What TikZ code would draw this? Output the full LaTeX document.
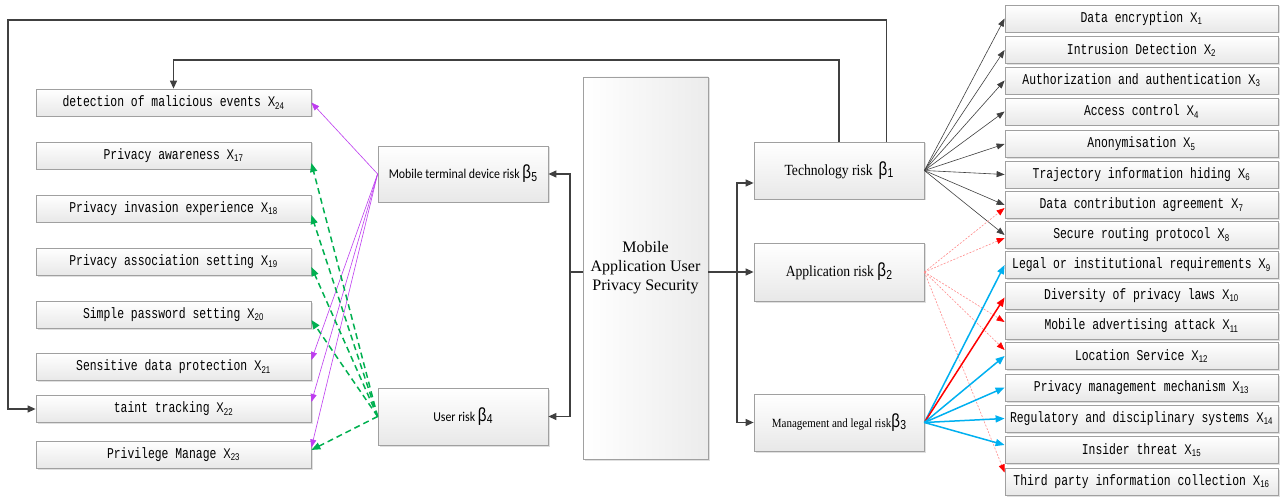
\documentclass[tikz,border=0pt]{standalone}
\usepackage{fontspec}
\setmainfont{Liberation Serif}
\newfontfamily\monof[FakeStretch=0.76]{Liberation Mono}
\newfontfamily\sansn[FakeStretch=0.8]{Liberation Sans}
\newfontfamily\carl[FakeStretch=0.88]{Carlito}
\newfontfamily\serifn[FakeStretch=0.88]{Liberation Serif}
\usetikzlibrary{arrows.meta,shadows}
\definecolor{bordergray}{RGB}{160,160,160}
\definecolor{linegray}{RGB}{64,64,64}
\definecolor{skyblue}{RGB}{0,176,240}
\definecolor{greenx}{RGB}{0,176,80}
\definecolor{purplex}{RGB}{190,60,240}
\definecolor{lightred}{RGB}{255,140,140}
\newcommand{\xl}[1]{{\sansn\fontsize{14}{16}\selectfont X\textsubscript{#1}}}
\newcommand{\bl}[1]{{\sansn\fontsize{19}{19}\selectfont β\kern0.3pt\raisebox{-2.5pt}{\fontsize{13}{13}\selectfont #1}}}
\begin{document}
\begin{tikzpicture}[x=1pt,y=-1pt,
  box/.style={draw=bordergray, line width=0.8pt, top color=white, bottom color=gray!18,
    drop shadow={shadow xshift=1.5pt, shadow yshift=-1.5pt, fill=gray!40, opacity=0.6},
    inner sep=0pt, align=center},
  xbox/.style={box, minimum width=275pt, minimum height=27pt, font=\monof\fontsize{15}{17}\selectfont},
  rbox/.style={box, minimum width=273pt, minimum height=27pt, font=\monof\fontsize{15}{17}\selectfont},
  mbox/.style={box, minimum width=170pt, minimum height=57pt},
  conn/.style={draw=linegray, line width=1.2pt},
  conna/.style={conn, -{Triangle[length=8pt,width=7pt]}},
  tarr/.style={draw=linegray, line width=0.6pt, -{Triangle[length=8pt,width=6pt]}},
  redd/.style={draw=lightred, line width=0.6pt, dash pattern=on 2pt off 1.5pt, -{Triangle[length=8pt,width=6pt,fill=red,color=red]}},
  bluea/.style={draw=skyblue, line width=1.5pt, -{Triangle[length=9pt,width=7pt]}},
  reda/.style={draw=red, line width=1.5pt, -{Triangle[length=9pt,width=7pt]}},
  purpa/.style={draw=purplex, line width=0.6pt, -{Triangle[length=8pt,width=6pt]}},
  greena/.style={draw=greenx, line width=1.5pt, dash pattern=on 6pt off 4pt, -{Triangle[length=9pt,width=7pt]}}
]
\useasboundingbox (0,0) rectangle (1280,497);
\fill[white] (0,0) rectangle (1280,497);

% left column
\node[xbox] (X24) at (173.5,102.5) {detection of malicious events \xl{24}};
\node[xbox] (X17) at (173.5,155.5) {Privacy awareness \xl{17}};
\node[xbox] (X18) at (173.5,208.5) {Privacy invasion experience \xl{18}};
\node[xbox] (X19) at (173.5,261.5) {Privacy association setting \xl{19}};
\node[xbox] (X20) at (173.5,314.5) {Simple password setting \xl{20}};
\node[xbox] (X21) at (173.5,367) {Sensitive data protection \xl{21}};
\node[xbox] (X22) at (173.5,409) {taint tracking \xl{22}};
\node[xbox] (X23) at (173.5,454.5) {Privilege Manage \xl{23}};

% middle left
\node[mbox, minimum height=56pt, font=\carl\fontsize{13.5}{15}\selectfont] (M) at (463,174) {Mobile terminal device risk \bl{5}};
\node[mbox, font=\carl\fontsize{13.5}{15}\selectfont] (U) at (463,416.5) {User risk \bl{4}};

% central
\node[draw=bordergray, line width=0.8pt, left color=white, right color=gray!15,
  drop shadow={shadow xshift=1.5pt, shadow yshift=-1.5pt, fill=gray!40, opacity=0.6},
  minimum width=125pt, minimum height=382pt, inner sep=0pt, align=center,
  font=\fontsize{16}{19}\selectfont] (C) at (645.5,268) {Mobile\\Application User\\Privacy Security};

% middle right
\node[mbox, font=\serifn\fontsize{15.5}{17}\selectfont] (T) at (839,170.5) {Technology risk \,\bl{1}};
\node[mbox, minimum height=58pt, font=\serifn\fontsize{15.5}{17}\selectfont] (A) at (839,272) {Application risk \bl{2}};
\node[mbox, font=\serifn\fontsize{12.5}{15}\selectfont] (G) at (839,422.5) {Management and legal risk\bl{3}};

% right column
\node[rbox] (X1) at (1141.5,18.5) {Data encryption \xl{1}};
\node[rbox] (X2) at (1141.5,50) {Intrusion Detection \xl{2}};
\node[rbox] (X3) at (1141.5,80.5) {Authorization and authentication \xl{3}};
\node[rbox] (X4) at (1141.5,111.5) {Access control \xl{4}};
\node[rbox] (X5) at (1141.5,144) {Anonymisation \xl{5}};
\node[rbox] (X6) at (1141.5,174.5) {Trajectory information hiding \xl{6}};
\node[rbox] (X7) at (1141.5,205) {Data contribution agreement \xl{7}};
\node[rbox] (X8) at (1141.5,235) {Secure routing protocol \xl{8}};
\node[rbox] (X9) at (1141.5,265) {Legal or institutional requirements \xl{9}};
\node[rbox] (X10) at (1141.5,295.5) {Diversity of privacy laws \xl{10}};
\node[rbox] (X11) at (1141.5,326) {Mobile advertising attack \xl{11}};
\node[rbox] (X12) at (1141.5,356) {Location Service \xl{12}};
\node[rbox] (X13) at (1141.5,387.5) {Privacy management mechanism \xl{13}};
\node[rbox] (X14) at (1141.5,418.5) {Regulatory and disciplinary systems \xl{14}};
\node[rbox] (X15) at (1141.5,450) {Insider threat \xl{15}};
\node[rbox] (X16) at (1141.5,481.5) {Third party information collection \xl{16}};

% central brackets
\coordinate (lj) at (570,272);
\coordinate (rj) at (737,272);
\draw[conn] (C.west |- lj) -- (lj);
\draw[conna] (lj) |- (M.east);
\draw[conna] (lj) |- (U.east);
\draw[conna] (C.east |- rj) -- (A.west);
\draw[conna] (rj) |- ([yshift=-12.5pt]T.west);
\draw[conna] (rj) |- (G.west);

% feedback loops
\coordinate (o1) at (886.5,20);
\coordinate (o2) at (8,20);
\draw[conna] (T.north -| o1) -- (o1) -- (o2) |- (X22.west);
\coordinate (i1) at (839,60);
\coordinate (i2) at (173.5,60);
\draw[conna] (T.north) -- (i1) -- (i2) -- (X24.north);

% technology risk arrows
\foreach \t in {X1,X2,X3,X4,X5,X6,X7,X8}
  \draw[tarr] (T.east) -- (\t.west);

% application risk (dashed red)
\draw[redd] (A.east) -- ([yshift=-3pt]X7.west);
\draw[redd] (A.east) -- ([yshift=-3pt]X8.west);
\draw[redd] (A.east) -- ([yshift=4pt]X11.west);
\draw[redd] (A.east) -- ([yshift=6pt]X12.west);
\draw[redd] (A.east) -- ([yshift=9pt]X16.west);

% management and legal risk
\draw[bluea] (G.east) -- (X9.west);
\draw[reda] (G.east) -- ([yshift=-2pt]X10.west);
\draw[bluea] (G.east) -- (X12.west);
\draw[bluea] (G.east) -- (X13.west);
\draw[bluea] (G.east) -- (X14.west);
\draw[bluea] (G.east) -- ([yshift=5pt]X15.west);

% mobile terminal device risk (purple)
\draw[purpa] (M.west) -- (X24.east);
\draw[purpa] (M.west) -- ([yshift=7pt]X21.east);
\draw[purpa] (M.west) -- ([yshift=7pt]X22.east);
\draw[purpa] (M.west) -- ([yshift=7pt]X23.east);

% user risk (green dashed)
\draw[greena] (U.west) -- ([yshift=-7.5pt]X17.east);
\draw[greena] (U.west) -- ([yshift=-6.5pt]X18.east);
\draw[greena] (U.west) -- ([yshift=-5.5pt]X19.east);
\draw[greena] (U.west) -- ([yshift=-5.5pt]X20.east);
\draw[greena] (U.west) -- ([yshift=4.5pt]X23.east);
\end{tikzpicture}
\end{document}
